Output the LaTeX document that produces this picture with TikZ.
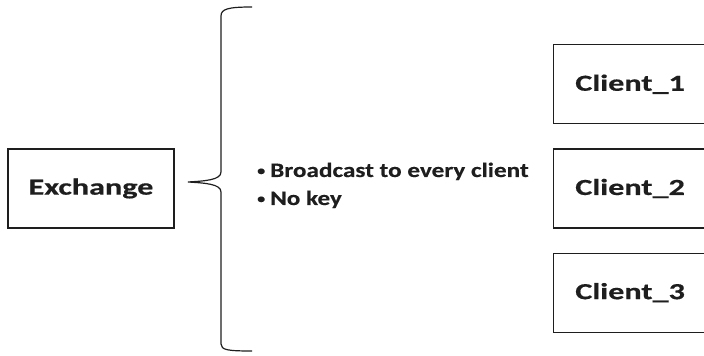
\documentclass[tikz,border=0pt]{standalone}
\usepackage{fontspec}
\setmainfont{Carlito}
\newfontfamily\boxfont{Carlito}[FakeStretch=1.40, FakeBold=0.5]
\newfontfamily\listfont{Carlito}[FakeStretch=1.23, FakeBold=0.3]
\usetikzlibrary{positioning}

\definecolor{inkgray}{HTML}{1E1E1E}
\newcommand{\dotitem}{\raisebox{2pt}{\fontsize{13}{13}\selectfont\textbullet}\hspace{5pt}}

\begin{document}
\begin{tikzpicture}[x=1pt,y=1pt,
            box/.style={
                rectangle, draw=inkgray, line width=1.2pt, inner sep=0pt,
                minimum height=79pt, text=inkgray,
                font=\boxfont\bfseries\fontsize{23}{27}\selectfont},
            exbox/.style={box, minimum width=166pt},
            clientbox/.style={box, minimum width=153pt, anchor=west},
            bullets/.style={align=left, inner sep=0pt, text=inkgray,
                font=\listfont\bfseries\fontsize{20.5}{28}\selectfont},
            brace/.style={draw=inkgray, line width=1.2pt},
            node distance=24pt]

            \useasboundingbox (0,0) rectangle (704,356);

            \node [exbox] (exch) at (91,167.5) {Exchange};

            \node [clientbox] (c2) at (553,167.5) {Client\_2};
            \node [clientbox,above=of c2] (c1) {Client\_1};
            \node [clientbox,below=of c2] (c3) {Client\_3};

            \coordinate (btop) at (252,349);
            \coordinate (bbot) at (252,5);
            \coordinate (tip) at (188,174);
            \draw [brace] (btop) .. controls (228,349) and (221,347) .. (221,340)
                -- (221,184) .. controls (221,176) and (205,175) .. (tip)
                .. controls (205,173) and (221,172) .. (221,164)
                -- (221,12) .. controls (221,6) and (228,5) .. (bbot);

            \node [bullets,anchor=base west] (info) at (257,151)
                {\dotitem Broadcast to every client\\\dotitem No key};

        \end{tikzpicture}
\end{document}
